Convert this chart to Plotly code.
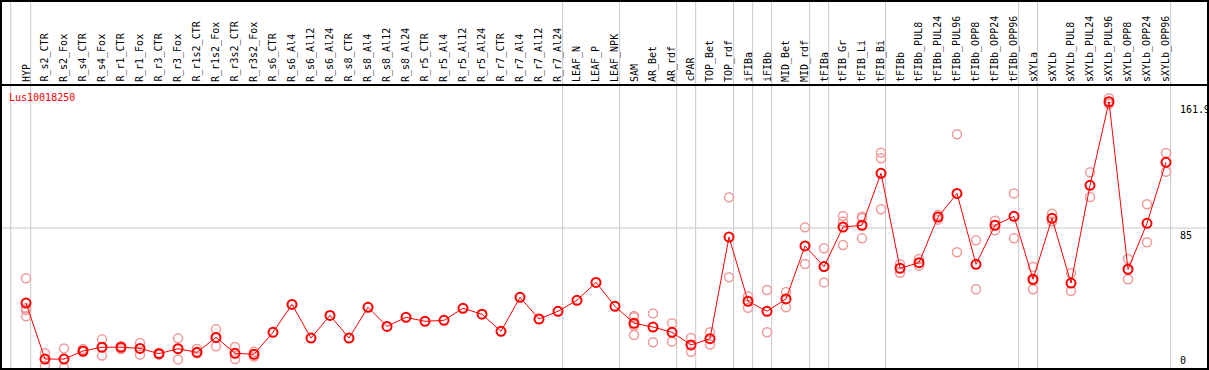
import plotly.graph_objects as go

title = "Lus10018250"
categories = ["HYP", "R_s2_CTR", "R_s2_Fox", "R_s4_CTR", "R_s4_Fox", "R_r1_CTR", "R_r1_Fox",
              "R_r3_CTR", "R_r3_Fox", "R_r1s2_CTR", "R_r1s2_Fox", "R_r3s2_CTR", "R_r3s2_Fox",
              "R_s6_CTR", "R_s6_Al4", "R_s6_Al12", "R_s6_Al24", "R_s8_CTR", "R_s8_Al4", "R_s8_Al12",
              "R_s8_Al24", "R_r5_CTR", "R_r5_Al4", "R_r5_Al12", "R_r5_Al24", "R_r7_CTR", "R_r7_Al4",
              "R_r7_Al12", "R_r7_Al24", "LEAF_N", "LEAF_P", "LEAF_NPK", "SAM", "AR_Bet", "AR_rdf",
              "cPAR", "TOP_Bet", "TOP_rdf", "iFIBa", "iFIBb", "MID_Bet", "MID_rdf", "tFIBa",
              "tFIB_Gr", "tFIB_Li", "tFIB_Bi", "tFIBb", "tFIBb_PUL8", "tFIBb_PUL24", "tFIBb_PUL96",
              "tFIBb_OPP8", "tFIBb_OPP24", "tFIBb_OPP96", "sXYLa", "sXYLb", "sXYLb_PUL8",
              "sXYLb_PUL24", "sXYLb_PUL96", "sXYLb_OPP8", "sXYLb_OPP24", "sXYLb_OPP96"]

means = [39.3, 5.2, 5.2, 10.1, 12.4, 12.4, 11.7, 8.5, 11.5, 9.3, 18.4, 8.7, 8.1,
         21.5, 38.5, 18.0, 31.8, 18.0, 36.7, 25.1, 30.6, 28.2, 28.8, 36.1, 32.5, 22.1, 42.8,
         29.6, 34.3, 41.0, 51.9, 37.3, 27.0, 24.7, 21.5, 13.8, 17.6, 79.5, 40.4, 34.3, 41.8,
         74.1, 61.5, 85.6, 86.7, 118.3, 60.5, 63.9, 91.7, 106.1, 62.9, 86.7, 92.1, 53.8, 90.9,
         51.5, 111.0, 161.9, 59.9, 87.9, 125.0]

replicates = [
    [54.4, 36.1, 35.1, 31.2], [8.7, 1.2], [11.7, 0.0], [11.3, 9.5], [17.2, 7.3], [13.0, 11.3],
    [15.0, 7.9], [9.0, 8.0], [17.8, 5.0], [11.3, 8.7], [23.3, 13.0], [12.5, 5.2], [9.7, 6.8],
    [], [], [], [], [], [], [], [], [], [], [], [], [], [], [], [], [], [], [],
    [31.4, 30.6, 25.5, 19.9], [33.0, 15.4], [27.0, 15.8], [18.0, 9.7], [21.5, 14.0],
    [103.7, 55.0], [43.4, 36.5], [47.3, 21.5], [46.0, 36.7], [85.4, 63.1], [72.7, 51.9],
    [92.3, 88.9, 74.7], [91.9, 90.9, 78.7], [130.9, 127.5, 96.4], [62.9, 57.8], [66.1, 62.1],
    [92.9, 90.1], [142.1, 70.2], [77.5, 47.7], [89.5, 83.6], [106.1, 78.7], [61.3, 53.0, 47.7],
    [93.7, 88.9], [57.4, 46.7], [118.9, 103.9], [164.0, 160.5], [66.1, 53.8], [99.5, 76.3],
    [130.7, 119.3],
]

group_ends = [0, 28, 31, 34, 35, 37, 38, 39, 41, 42, 45, 52, 53, 60]
axis_labels = [161.9, 85, 0]

x_idx = list(range(len(categories)))
rx, ry = [], []
for i, reps in enumerate(replicates):
    for v in reps:
        rx.append(i)
        ry.append(v)

FONT = "DejaVu Sans Mono"
HEADER_Y = 172.1

fig = go.Figure()
fig.add_trace(go.Scatter(
    x=rx, y=ry, mode="markers",
    marker=dict(symbol="circle-open", size=9, color="#f09a9a", line=dict(width=1.5)),
    hoverinfo="skip", cliponaxis=False))
fig.add_trace(go.Scatter(
    x=x_idx, y=means, mode="lines+markers",
    line=dict(color="#ff0000", width=1),
    marker=dict(symbol="circle-open", size=9, color="#ff0000", line=dict(width=2)),
    hoverinfo="skip", cliponaxis=False))

shapes = []
for pos in [-0.805] + [g + 0.245 for g in group_ends]:
    shapes.append(dict(type="line", xref="x", yref="paper", x0=pos, x1=pos, y0=0, y1=1,
                       line=dict(color="#c8c8c8", width=1), layer="below"))
shapes.append(dict(type="line", xref="paper", yref="y", x0=0, x1=1, y0=85, y1=85,
                   line=dict(color="#c8c8c8", width=1), layer="below"))
shapes.append(dict(type="line", xref="paper", yref="y", x0=0, x1=1, y0=HEADER_Y, y1=HEADER_Y,
                   line=dict(color="black", width=2)))
shapes.append(dict(type="rect", xref="paper", yref="paper", x0=0, x1=1, y0=0, y1=1,
                   line=dict(color="black", width=2)))

annotations = []
for i, c in enumerate(categories):
    annotations.append(dict(x=i, y=HEADER_Y, xref="x", yref="y", text=c, textangle=-90,
                            showarrow=False, xanchor="center", yanchor="bottom", yshift=1,
                            font=dict(family=FONT, size=10, color="black")))
annotations.append(dict(x=-1.026, y=164.5, xref="x", yref="y", text=title, showarrow=False,
                        xanchor="left", yanchor="middle",
                        font=dict(family=FONT, size=10, color="#ff0000")))
for v in axis_labels:
    annotations.append(dict(x=60.63, y=v, xref="x", yref="y", text=str(v), showarrow=False,
                            xanchor="left", yanchor="bottom" if v == 0 else "top",
                            font=dict(family=FONT, size=10, color="black")))

fig.update_layout(
    width=1209, height=370,
    margin=dict(l=1, r=1, t=1, b=1),
    paper_bgcolor="white", plot_bgcolor="white",
    showlegend=False, hovermode=False,
    xaxis=dict(range=[-1.3158, 62.2105], visible=False, fixedrange=True),
    yaxis=dict(range=[-0.853, 223.26], visible=False, fixedrange=True),
    shapes=shapes, annotations=annotations,
)

fig.write_html("out.html", config={"displayModeBar": False},
               post_script="document.body.style.margin='0';document.body.style.overflow='hidden';")
